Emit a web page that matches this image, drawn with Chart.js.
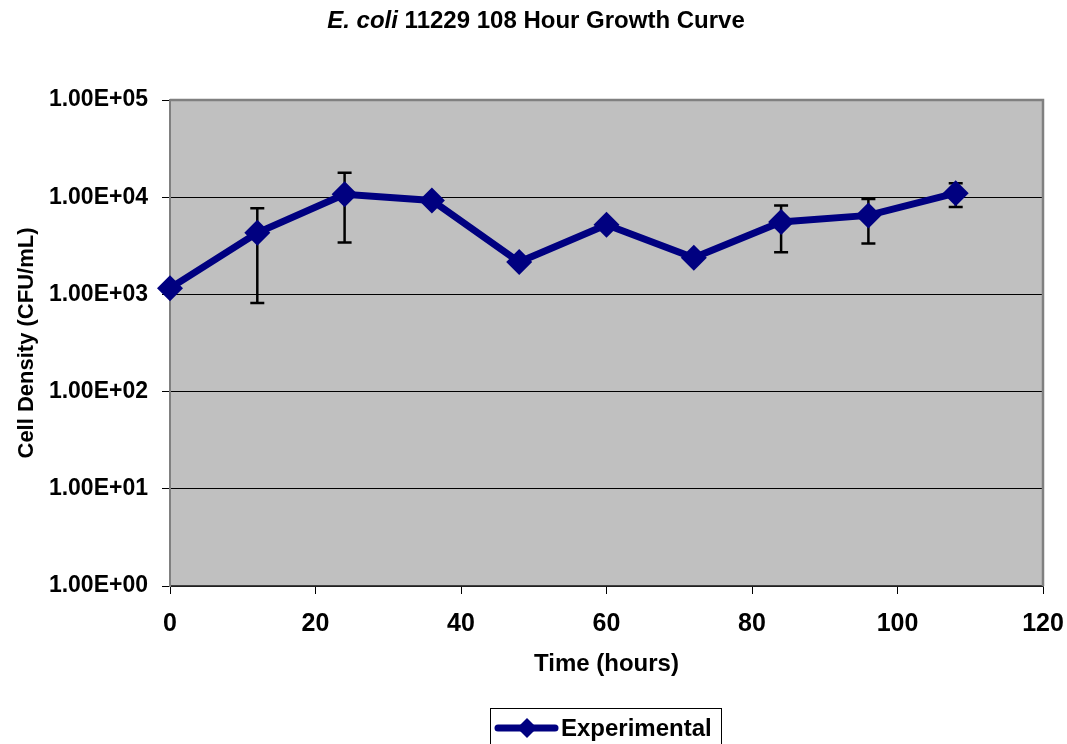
<!DOCTYPE html>
<html>
<head>
<meta charset="utf-8">
<script src="https://cdn.jsdelivr.net/npm/chart.js@4"></script>
<style>
  html, body { margin: 0; padding: 0; background: #ffffff; }
  #wrap { width: 1067px; height: 744px; position: relative; }
</style>
</head>
<body>
<div id="wrap"><canvas id="c" width="1067" height="744"></canvas></div>
<script>
// Sampling times (hours)
const hours = [0, 12, 24, 36, 48, 60, 72, 84, 96, 108];
// Mean cell density (CFU/mL)
const density = [1160, 4300, 10700, 9250, 2150, 5200, 2380, 5550, 6500, 11000];
// Error bar ends (CFU/mL); null where no bar is drawn
const errHigh = [null, 7700, 17800, null, null, 5700, null, 8200, 9600, 13900];
const errLow  = [null, 815, 3420, null, null, 4700, null, 2720, 3340, 7950];
// Axis tick values
const xTicks = [0, 20, 40, 60, 80, 100, 120];
const yTicks = [1, 10, 100, 1000, 10000, 100000];

const FONT = '"Liberation Sans", Arial, Helvetica, sans-serif';
const NAVY = '#000080';

function sci(v) {
  const e = Math.round(Math.log10(v));
  const sign = e < 0 ? '-' : '+';
  const ae = Math.abs(e);
  return '1.00E' + sign + (ae < 10 ? '0' + ae : '' + ae);
}

// Grey plot area with a border
const plotBackground = {
  id: 'plotBackground',
  beforeDraw(chart) {
    const { ctx, chartArea: a } = chart;
    ctx.save();
    ctx.fillStyle = '#c0c0c0';
    ctx.fillRect(a.left, a.top, a.right - a.left, a.bottom - a.top);
    ctx.restore();
  },
  afterDatasetsDraw(chart) {
    const { ctx, chartArea: a } = chart;
    ctx.save();
    ctx.strokeStyle = '#808080';
    ctx.lineWidth = 2.5;
    ctx.beginPath();
    ctx.moveTo(a.left, a.top);
    ctx.lineTo(a.right, a.top);
    ctx.lineTo(a.right, a.bottom);
    ctx.stroke();
    ctx.restore();
  }
};

// Vertical error bars with caps, drawn under the markers
const errorBars = {
  id: 'errorBars',
  beforeDatasetsDraw(chart) {
    const { ctx, scales: { x, y } } = chart;
    ctx.save();
    ctx.strokeStyle = '#000000';
    ctx.lineWidth = 2.5;
    const cap = 7;
    hours.forEach((h, i) => {
      if (errHigh[i] == null || errLow[i] == null) return;
      const px = x.getPixelForValue(h);
      const pHi = y.getPixelForValue(errHigh[i]);
      const pLo = y.getPixelForValue(errLow[i]);
      ctx.beginPath();
      ctx.moveTo(px, pHi); ctx.lineTo(px, pLo);
      ctx.moveTo(px - cap, pHi); ctx.lineTo(px + cap, pHi);
      ctx.moveTo(px - cap, pLo); ctx.lineTo(px + cap, pLo);
      ctx.stroke();
    });
    ctx.restore();
  }
};

// Title with an italic species name
const mixedTitle = {
  id: 'mixedTitle',
  afterDraw(chart) {
    const ctx = chart.ctx;
    const partA = 'E. coli ';
    const partB = '11229 108 Hour Growth Curve';
    ctx.save();
    ctx.fillStyle = '#000000';
    ctx.textBaseline = 'middle';
    ctx.font = 'italic bold 24px ' + FONT;
    const wA = ctx.measureText(partA).width;
    ctx.font = 'bold 24px ' + FONT;
    const wB = ctx.measureText(partB).width;
    const x0 = 536 - (wA + wB) / 2;
    ctx.font = 'italic bold 24px ' + FONT;
    ctx.fillText(partA, x0, 21);
    ctx.font = 'bold 24px ' + FONT;
    ctx.fillText(partB, x0 + wA, 21);
    ctx.restore();
  }
};

// Boxed legend below the axis
const boxLegend = {
  id: 'boxLegend',
  afterDraw(chart) {
    const ctx = chart.ctx;
    const ds = chart.data.datasets[0];
    const left = 490, top = 708, width = 231, height = 44;
    ctx.save();
    ctx.strokeStyle = '#000000';
    ctx.lineWidth = 1;
    ctx.strokeRect(left + 0.5, top + 0.5, width, height);
    const cy = 728;
    ctx.strokeStyle = ds.borderColor;
    ctx.lineWidth = 7;
    ctx.lineCap = 'round';
    ctx.beginPath();
    ctx.moveTo(498, cy); ctx.lineTo(555, cy);
    ctx.stroke();
    ctx.fillStyle = ds.pointBackgroundColor;
    ctx.beginPath();
    ctx.moveTo(527, cy - 10); ctx.lineTo(537, cy); ctx.lineTo(527, cy + 10); ctx.lineTo(517, cy);
    ctx.closePath();
    ctx.fill();
    ctx.fillStyle = '#000000';
    ctx.font = 'bold 24px ' + FONT;
    ctx.textBaseline = 'middle';
    ctx.fillText(ds.label, 561, cy + 1);
    ctx.restore();
  }
};

new Chart(document.getElementById('c'), {
  type: 'line',
  data: {
    datasets: [{
      label: 'Experimental',
      data: hours.map((h, i) => ({ x: h, y: density[i] })),
      borderColor: NAVY,
      backgroundColor: NAVY,
      pointBackgroundColor: NAVY,
      pointBorderColor: NAVY,
      borderWidth: 7,
      pointStyle: 'rectRot',
      pointRadius: 13,
      pointBorderWidth: 0,
      tension: 0,
      clip: false
    }]
  },
  options: {
    responsive: false,
    animation: false,
    events: [],
    layout: { padding: { left: 10, top: 100, right: 24, bottom: 61 } },
    plugins: { legend: { display: false }, title: { display: false }, tooltip: { enabled: false } },
    scales: {
      x: {
        type: 'linear',
        min: 0, max: 120,
        afterBuildTicks(s) { s.ticks = xTicks.map(v => ({ value: v })); },
        afterFit(s) { s.height = 97; s.paddingLeft = 0; s.paddingRight = 0; },
        grid: { display: true, drawOnChartArea: false, drawTicks: true, tickLength: 8, color: '#000000', lineWidth: 1 },
        border: { display: true, color: '#404040', width: 1.5 },
        ticks: { color: '#000000', font: { family: FONT, size: 25, weight: 'bold' }, padding: 15, maxRotation: 0 },
        title: { display: true, text: 'Time (hours)', color: '#000000', font: { family: FONT, size: 24, weight: 'bold' }, padding: { top: 4, bottom: 4 } }
      },
      y: {
        type: 'logarithmic',
        min: 1, max: 100000,
        afterBuildTicks(s) { s.ticks = yTicks.map(v => ({ value: v })); },
        afterFit(s) { s.width = 160; s.paddingTop = 0; s.paddingBottom = 0; },
        grid: { display: true, drawTicks: true, tickLength: 8, color: '#000000', lineWidth: 1 },
        border: { display: true, color: '#808080', width: 2 },
        ticks: { color: '#000000', font: { family: FONT, size: 23, weight: 'bold' }, padding: 14, callback: v => sci(v) },
        title: { display: true, text: 'Cell Density (CFU/mL)', color: '#000000', font: { family: FONT, size: 22, weight: 'bold' }, padding: { top: 4, bottom: 4 } }
      }
    }
  },
  plugins: [plotBackground, errorBars, mixedTitle, boxLegend]
});
</script>
</body>
</html>
